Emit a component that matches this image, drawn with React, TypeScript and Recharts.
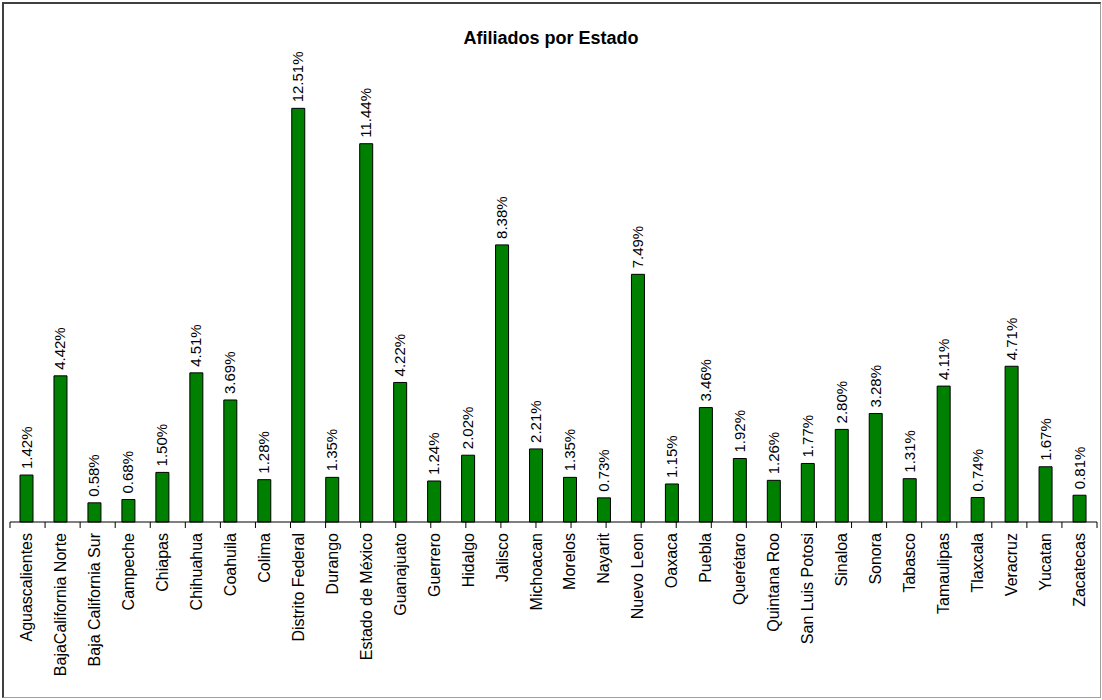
import { Bar, BarChart, LabelList, XAxis, YAxis } from "recharts"

const estados = [
  "Aguascalientes",
  "BajaCalifornia Norte",
  "Baja California Sur",
  "Campeche",
  "Chiapas",
  "Chihuahua",
  "Coahuila",
  "Colima",
  "Distrito Federal",
  "Durango",
  "Estado de México",
  "Guanajuato",
  "Guerrero",
  "Hidalgo",
  "Jalisco",
  "Michoacan",
  "Morelos",
  "Nayarit",
  "Nuevo Leon",
  "Oaxaca",
  "Puebla",
  "Querétaro",
  "Quintana Roo",
  "San Luis Potosi",
  "Sinaloa",
  "Sonora",
  "Tabasco",
  "Tamaulipas",
  "Tlaxcala",
  "Veracruz",
  "Yucatan",
  "Zacatecas",
]

const porcentajes = [
  1.42, 4.42, 0.58, 0.68, 1.5, 4.51, 3.69, 1.28, 12.51, 1.35, 11.44, 4.22, 1.24,
  2.02, 8.38, 2.21, 1.35, 0.73, 7.49, 1.15, 3.46, 1.92, 1.26, 1.77, 2.8, 3.28,
  1.31, 4.11, 0.74, 4.71, 1.67, 0.81,
]

const data = estados.map((name, i) => ({ name, value: porcentajes[i] }))

// tick marks sit between the categories, not under them
const separadores = [...estados.map((_, i) => i), estados.length]

const font = "Arial, 'Liberation Sans', sans-serif"

function NoLabel() {
  return <g />
}

function CatTick(props: any) {
  const { x, y, payload } = props
  return (
    <text
      transform={`translate(${x + 5}, ${y + 10}) rotate(-90)`}
      textAnchor="end"
      fontSize={16}
      fontFamily={font}
      fill="#000"
    >
      {payload.value}
    </text>
  )
}

function ValueLabel(props: any) {
  const { x, y, width, value } = props
  return (
    <text
      transform={`translate(${x + width / 2 + 5}, ${y - 6}) rotate(-90)`}
      textAnchor="start"
      fontSize={15}
      fontFamily={font}
      fill="#000"
    >
      {`${Number(value).toFixed(2)}%`}
    </text>
  )
}

export default function App() {
  return (
    <div
      style={{
        position: "absolute",
        left: 0,
        top: 0,
        width: 1102,
        height: 700,
        background: "#fff",
      }}
    >
      <div
        style={{
          position: "absolute",
          left: 2,
          top: 2,
          width: 1099,
          height: 696,
          boxSizing: "border-box",
          borderTop: "2px solid #404040",
          borderLeft: "2px solid #404040",
          borderRight: "1px solid #a0a0a0",
          borderBottom: "1px solid #a0a0a0",
        }}
      />
      <div
        style={{
          position: "absolute",
          left: 0,
          top: 28,
          width: 1102,
          textAlign: "center",
          fontFamily: font,
          fontWeight: "bold",
          fontSize: 18,
          lineHeight: "20px",
          color: "#000",
        }}
      >
        Afiliados por Estado
      </div>
      <div style={{ position: "absolute", left: 0, top: 0 }}>
        <BarChart
          width={1102}
          height={700}
          data={data}
          margin={{ top: 26, right: 5, left: 10, bottom: 0 }}
        >
          <XAxis
            xAxisId="a"
            type="number"
            domain={[0, estados.length]}
            ticks={separadores}
            interval={0}
            allowDataOverflow
            tick={<NoLabel />}
            tickSize={6}
            height={1}
            stroke="#000"
          />
          <XAxis
            xAxisId="b"
            dataKey="name"
            interval={0}
            axisLine={false}
            tickLine={false}
            tickSize={0}
            tickMargin={0}
            height={177}
            tick={<CatTick />}
          />
          <YAxis hide domain={[0, 15]} />
          <Bar
            xAxisId="b"
            dataKey="value"
            fill="#008000"
            stroke="#000"
            strokeWidth={1}
            barSize={13}
            isAnimationActive={false}
          >
            <LabelList dataKey="value" content={<ValueLabel />} />
          </Bar>
        </BarChart>
      </div>
    </div>
  )
}
